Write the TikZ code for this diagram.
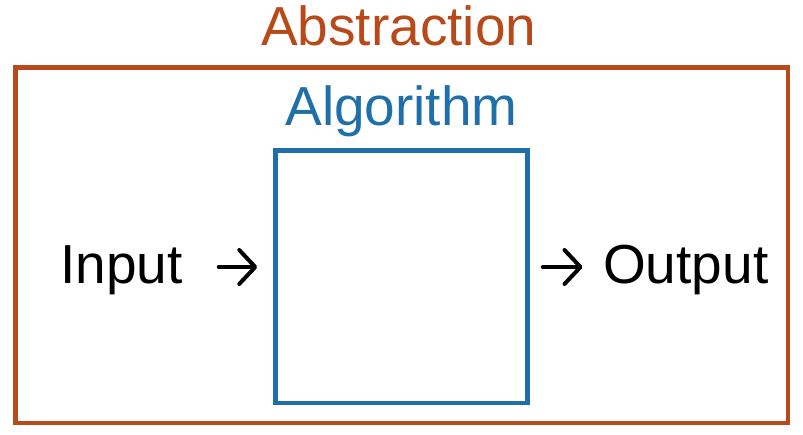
\documentclass[tikz,border=0pt]{standalone}
\usepackage{fontspec}
\setmainfont{Liberation Sans}
\usetikzlibrary{arrows.meta,positioning}
\definecolor{abstrorange}{RGB}{184,74,26}
\definecolor{algoblue}{RGB}{31,112,170}

\begin{document}
\begin{tikzpicture}[
    x=1pt, y=1pt,
    frame/.style={rectangle, draw=abstrorange, line width=4.5pt, minimum width=772.5pt, minimum height=355.5pt, inner sep=0pt},
    algbox/.style={rectangle, draw=algoblue, line width=4.5pt, minimum width=252pt, minimum height=252.5pt, inner sep=0pt},
    title/.style={inner sep=0pt, font=\fontsize{55}{60}\selectfont},
    arrow/.style={-{Straight Barb[length=16pt,width=34pt,round]}, line width=4pt, line cap=round}
]
\useasboundingbox (0,0) rectangle (803,434);

% Abstraction frame
\node[frame] (abstr) at (401.75,188.75) {};
\node[title, text=abstrorange, above=20pt of abstr, anchor=base, xshift=-3pt] (abstrlabel) {Abstraction};

% Algorithm box
\node[algbox] (algo) at (401.5,157.25) {};
\node[title, text=algoblue, above=23pt of algo, anchor=base] (algolabel) {Algorithm};

% Input and Output
\node[title, anchor=base west] (input) at (60,150) {Input};
\node[title, anchor=base west] (output) at (603,150) {Output};

% Arrows
\coordinate (inarr) at ([yshift=17pt]input.base east);
\coordinate (outarr) at ([yshift=17pt]output.base west);
\draw[arrow, shorten <=36pt, shorten >=16pt] (inarr) -- (inarr -| algo.west);
\draw[arrow, shorten <=13pt, shorten >=20.5pt] (outarr -| algo.east) -- (outarr);

\end{tikzpicture}
\end{document}
